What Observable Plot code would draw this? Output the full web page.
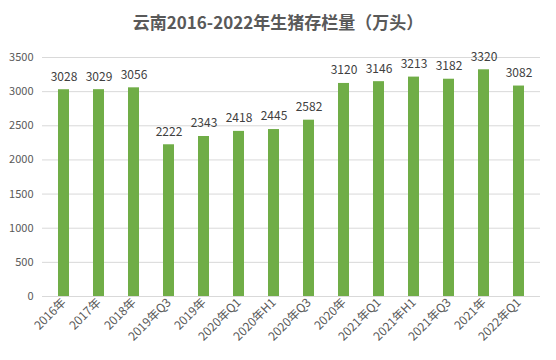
<!DOCTYPE html>
<html><head><meta charset="utf-8">
<script src="https://cdn.jsdelivr.net/npm/d3@7"></script>
<script src="https://cdn.jsdelivr.net/npm/@observablehq/plot@0.6"></script>
<style>
body{margin:0;background:#fff;font-family:"Noto Sans CJK SC","Noto Sans",sans-serif;}
#title{height:40px;line-height:44px;text-align:center;font-size:17px;font-weight:bold;color:#595959;}
</style></head>
<body>
<div id="title">云南2016-2022年生猪存栏量（万头）</div>
<div id="chart"></div>
<script>
const categories = ["2016年","2017年","2018年","2019年Q3","2019年","2020年Q1","2020年H1","2020年Q3","2020年","2021年Q1","2021年H1","2021年Q3","2021年","2022年Q1"];
const values = [3028,3029,3056,2222,2343,2418,2445,2582,3120,3146,3213,3182,3320,3082];
const yTicks = [0,500,1000,1500,2000,2500,3000,3500];
const data = categories.map((c,i)=>({c, v: values[i]}));
const chart = Plot.plot({
  width: 556, height: 320,
  marginLeft: 42, marginRight: 16, marginTop: 17, marginBottom: 64,
  style: {fontFamily: '"Noto Sans CJK SC","Noto Sans",sans-serif', fontSize: "11px", color: "#595959"},
  x: {domain: categories, paddingInner: 0.69, paddingOuter: 0.345, label: null, tickSize: 0, tickRotate: -45, tickPadding: 4},
  y: {domain: [0,3500], ticks: yTicks, label: null, tickSize: 0, tickFormat: d=>String(d)},
  marks: [
    Plot.gridY(yTicks, {stroke: "#d9d9d9", strokeOpacity: 1}),
    Plot.barY(data, {x: "c", y: "v", fill: "#70AD47"}),
    Plot.ruleY([0], {stroke: "#d9d9d9"}),
    Plot.axisX({tickSize: 0, tickRotate: -45, tickPadding: 4, fontSize: 12, label: null}),
    Plot.text(data, {x: "c", y: "v", text: d=>String(d.v), dy: -13, fill: "#404040", fontSize: 12})
  ]
});
document.getElementById("chart").appendChild(chart);
</script>
</body></html>
